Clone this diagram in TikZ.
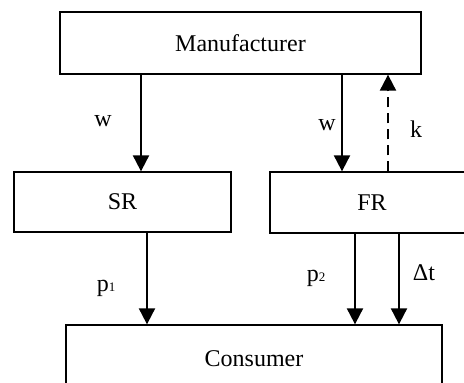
\documentclass[tikz,border=0pt]{standalone}
\usepackage{fontspec}
\setmainfont{Liberation Serif}
\usetikzlibrary{positioning,arrows.meta,calc}

\begin{document}
\begin{tikzpicture}[x=1pt,y=-1pt,
 box/.style={draw,line width=1.3pt,inner sep=0pt,font=\fontsize{24}{28}\selectfont},
 flow/.style={-{Triangle[length=16pt,width=16pt]},line width=2pt},
 back/.style={flow,dash pattern=on 10pt off 6pt},
 lab/.style={font=\fontsize{24}{28}\selectfont},
 sub/.style={}]
\useasboundingbox (0,0) rectangle (464,383);
\node[box,minimum width=361pt,minimum height=62pt] (man) at (240.5,43) {Manufacturer};
\node[box,minimum width=217pt,minimum height=60pt] (sr) at (122.5,202) {SR};
\node[box,minimum width=204pt,minimum height=61pt] (fr) at (372,202.5) {FR};
\node[box,minimum width=376pt,minimum height=68pt] (con) at (254,359) {Consumer};
% wholesale price and order flow
\draw[flow] ([xshift=18.5pt]sr.north |- man.south) -- ([xshift=18.5pt]sr.north);
\draw[flow] ([xshift=-30pt]fr.north |- man.south) -- ([xshift=-30pt]fr.north);
\draw[back] ([xshift=16pt]fr.north) -- ([xshift=16pt]fr.north |- man.south);
% retail to consumer
\draw[flow] ([xshift=24.5pt]sr.south) -- ([xshift=24.5pt]sr.south |- con.north);
\draw[flow] ([xshift=-17pt]fr.south) -- ([xshift=-17pt]fr.south |- con.north);
\draw[flow] ([xshift=27pt]fr.south) -- ([xshift=27pt]fr.south |- con.north);
\node[lab] (w1) at (103,121) {w};
\node[lab] (w2) at (327,125) {w};
\node[lab] (kk) at (416,129) {k};
\node[lab] (p1) at (106,288) {p{\fontsize{13}{13}\selectfont 1}};
\node[lab] (p2) at (316,278) {p{\fontsize{13}{13}\selectfont 2}};
\node[lab] (dt) at (424,273) {Δt};
\end{tikzpicture}
\end{document}
